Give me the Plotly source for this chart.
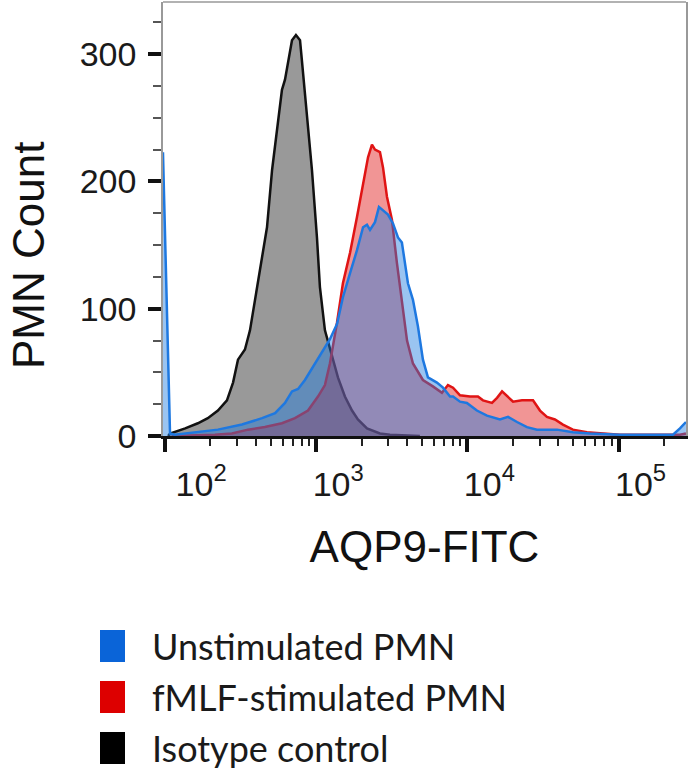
import plotly.graph_objects as go

# ---------------- data ----------------
# Isotype control (black / grey)
iso_x = [105, 108, 136, 165, 192, 224, 257, 282, 304, 338, 365, 394, 439, 473, 511,
         558, 594, 622, 650, 692, 735, 782, 805, 869, 938, 1012, 1059, 1143, 1271,
         1393, 1549, 1726, 1888, 2168, 2642, 3076, 4853]
iso_y = [0, 2, 6, 10, 14, 20, 28, 42, 60, 68, 83, 107, 138, 164, 209,
         248, 272, 280, 293, 311, 315, 311, 295, 254, 209, 156, 117, 83, 62,
         46, 31, 20, 13, 6, 2, 1, 0]

# fMLF-stimulated PMN (red)
fmlf_x = [111, 214, 277, 354, 458, 594, 724, 883, 1028, 1143, 1233, 1373, 1503, 1675,
          1862, 2042, 2203, 2339, 2449, 2642, 2767, 2939, 3170, 3420, 3690, 3990,
          4366, 5083, 5916, 6790, 7442, 8039, 8939, 10400, 11750, 12680, 14550,
          15710, 16960, 18300, 20050, 22970, 27170, 30220, 33600, 37930, 42850,
          49890, 61770, 102000, 254700, 279000]
fmlf_y = [0, 1, 2, 5, 7, 10, 14, 20, 31, 40, 57, 89, 120, 144,
          172, 199, 219, 229, 225, 223, 211, 188, 170, 136, 104, 75,
          57, 44, 39, 34, 40, 38, 32, 31, 31, 28, 26,
          30, 35, 31, 27, 28, 28, 20, 15, 13, 9,
          5, 3, 1, 1, 2]

# Unstimulated PMN (blue)
unstim_x = [97, 108, 116, 165, 224, 323, 439, 535, 622, 692, 759, 843, 953, 1092, 1233,
            1373, 1503, 1675, 1862, 2042, 2168, 2270, 2449, 2602, 2767, 2985, 3222,
            3475, 3690, 3864, 4046, 4366, 4712, 5083, 5485, 6290, 6900, 7680, 8039,
            8939, 9930, 11560, 13480, 16430, 18570, 21300, 24780, 28870, 39150,
            49890, 64700, 102000, 229000, 254700, 279000]
unstim_y = [223, 2, 1, 3, 5, 9, 14, 18, 26, 35, 37, 44, 54, 65, 76,
            88, 109, 128, 146, 164, 166, 162, 168, 180, 177, 174, 167,
            156, 152, 136, 120, 107, 86, 60, 46, 42, 38, 31, 31,
            27, 26, 20, 16, 13, 15, 11, 7, 5, 5,
            3, 2, 1, 1, 6, 11]

x_tickvals = [100, 1000, 10000, 100000]
x_ticktext = ["\u00a0\u00a0\u00a010<sup>2</sup>", "10<sup>3</sup>", "10<sup>4</sup>", "10<sup>5</sup>"]
x_minor = [m * 10 ** e for e in range(2, 6) for m in range(2, 10)]
y_tickvals = [0, 100, 200, 300]
y_ticktext = ["0", "100", "200", "300"]

legend_names = ["Unstimulated PMN", "fMLF-stimulated PMN", "Isotype control"]
legend_colors = ["#0a64d8", "#dd0000", "#000000"]

# ---------------- figure ----------------
W, H = 693, 779
L, R, T, B = 163, 7, 2, 343
pw, ph = W - L - R, H - T - B


def px(xp):
    return (xp - L) / pw


def py(yp):
    return (H - B - yp) / ph


fig = go.Figure()
fig.add_trace(go.Scatter(x=iso_x, y=iso_y, mode="lines", fill="tozeroy",
                         name="Isotype control",
                         line=dict(color="#111111", width=2.5),
                         fillcolor="rgba(0,0,0,0.40)", showlegend=False))
fig.add_trace(go.Scatter(x=fmlf_x, y=fmlf_y, mode="lines", fill="tozeroy",
                         name="fMLF-stimulated PMN",
                         line=dict(color="#e01414", width=2.5),
                         fillcolor="rgba(225,20,20,0.45)", showlegend=False))
fig.add_trace(go.Scatter(x=unstim_x, y=unstim_y, mode="lines", fill="tozeroy",
                         name="Unstimulated PMN",
                         line=dict(color="#1e78e0", width=2.5),
                         fillcolor="rgba(30,125,225,0.45)", showlegend=False))

tick_font = dict(family="Liberation Sans, Arial, sans-serif", size=34, color="#1a1a1a")

fig.update_xaxes(type="log", range=[1.987, 5.446],
                 showline=True, linecolor="#111", linewidth=2.5,
                 tickmode="array", tickvals=x_tickvals, ticktext=x_ticktext,
                 ticks="outside", ticklen=13, tickwidth=3.5, tickcolor="#111",
                 ticklabelshift=22, ticklabelstandoff=3,
                 minor=dict(tickmode="array", tickvals=x_minor, ticks="outside",
                            ticklen=7, tickwidth=2, tickcolor="#222"),
                 tickfont=tick_font, showgrid=False, zeroline=False,
                 title=dict(text="AQP9-FITC", standoff=30,
                            font=dict(family="Liberation Sans, Arial, sans-serif",
                                      size=44, color="#111")))
fig.update_yaxes(range=[0, 341],
                 showline=True, linecolor="#999", linewidth=1.5, mirror=True,
                 tickmode="array", tickvals=y_tickvals, ticktext=y_ticktext,
                 ticks="outside", ticklen=13, tickwidth=3.5, tickcolor="#111",
                 ticklabelstandoff=5,
                 minor=dict(dtick=25, tick0=0, ticks="outside", ticklen=8,
                            tickwidth=1.5, tickcolor="#555"),
                 tickfont=tick_font, showgrid=False, zeroline=False)

shapes = [dict(type="line", xref="paper", yref="paper", x0=0, x1=1, y0=1, y1=1,
               line=dict(color="#999", width=1.5))]
annotations = [dict(text="PMN Count", xref="paper", yref="paper",
                    x=px(28), y=py(256), textangle=-90, showarrow=False,
                    xanchor="center", yanchor="middle",
                    font=dict(family="Liberation Sans, Arial, sans-serif",
                              size=44, color="#111"))]

row_centers = [646, 697, 748]
for name, col, yc in zip(legend_names, legend_colors, row_centers):
    shapes.append(dict(type="rect", xref="paper", yref="paper",
                       x0=px(100), x1=px(125), y0=py(yc - 16), y1=py(yc + 16),
                       line=dict(width=0), fillcolor=col))
    annotations.append(dict(text=name, xref="paper", yref="paper",
                            x=px(150), y=py(yc), xanchor="left", yanchor="middle",
                            showarrow=False,
                            font=dict(family="Lato, Open Sans, sans-serif",
                                      size=36, color="#1a1a1a")))

fig.update_layout(width=W, height=H, autosize=False,
                  margin=dict(l=L, r=R, t=T, b=B, pad=0),
                  paper_bgcolor="white", plot_bgcolor="white",
                  showlegend=False, shapes=shapes, annotations=annotations)

fig.write_html("out.html",
               config={"displayModeBar": False},
               post_script="document.body.style.margin='0';document.body.style.overflow='hidden';")
